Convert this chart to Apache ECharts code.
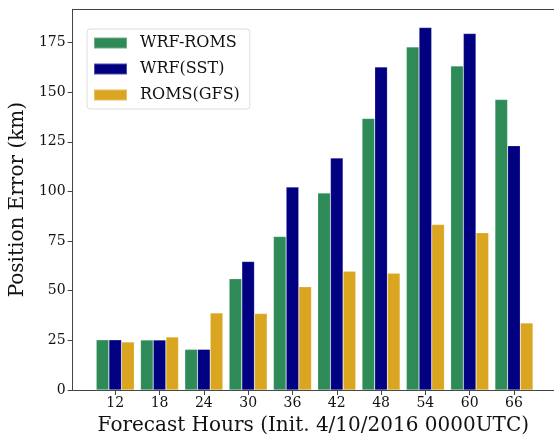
<!DOCTYPE html>
<html>
<head>
<meta charset="utf-8">
<script src="https://cdn.jsdelivr.net/npm/echarts@6/dist/echarts.min.js"></script>
<style>html,body{margin:0;padding:0;background:#fff;}#c{width:554px;height:441px;}</style>
</head>
<body>
<div id="c"></div>
<script>
var hours = [12, 18, 24, 30, 36, 42, 48, 54, 60, 66];
var wrfRoms = [25.3, 25.2, 20.5, 56.0, 77.3, 99.2, 136.8, 172.8, 163.2, 146.3];
var wrfSst = [25.3, 25.2, 20.5, 64.7, 102.2, 116.8, 162.7, 182.5, 179.5, 123.0];
var romsGfs = [24.2, 26.7, 38.8, 38.5, 52.0, 59.8, 58.8, 83.3, 79.2, 33.8];
var yTicks = [0, 25, 50, 75, 100, 125, 150, 175];
var seriesNames = ['WRF-ROMS', 'WRF(SST)', 'ROMS(GFS)'];
var colors = ['#2E8B57', '#000080', '#DAA520'];

function pairs(vals) { return hours.map(function (h, i) { return [h, vals[i]]; }); }
var font = 'DejaVu Serif';
var chart = echarts.init(document.getElementById('c'), null, { renderer: 'canvas' });
var mk = function (i, vals) {
  return {
    name: seriesNames[i], type: 'bar', data: pairs(vals), xAxisIndex: 0,
    barWidth: 12.7, barGap: '0%',
    itemStyle: { color: colors[i], borderColor: 'rgba(255,255,255,0.3)', borderWidth: 0.6 }
  };
};
var xMin = 6.23, xMax = 71.42;
chart.setOption({
  animation: false,
  grid: { left: 72, right: 0, top: 9.3, bottom: 48.3, show: false },
  legend: {
    left: 87, top: 29, orient: 'vertical',
    data: seriesNames,
    itemWidth: 33, itemHeight: 11, itemGap: 10,
    icon: 'rect',
    padding: [6, 10, 6, 6],
    borderColor: '#ddd', borderWidth: 1, borderRadius: 3, backgroundColor: 'rgba(255,255,255,0.8)',
    textStyle: { fontFamily: font, fontSize: 16, color: '#111', padding: [0, 0, 0, 8] }
  },
  xAxis: [{
    type: 'value', min: xMin, max: xMax,
    name: 'Forecast Hours (Init. 4/10/2016 0000UTC)', nameLocation: 'middle', nameGap: 26,
    nameTextStyle: { fontFamily: font, fontSize: 20, color: '#111' },
    axisLine: { show: true, lineStyle: { color: '#444' } },
    axisTick: { show: true, length: 5, lineStyle: { color: '#444' }, customValues: hours },
    axisLabel: { fontFamily: font, fontSize: 14, color: '#111', margin: 6, customValues: hours },
    splitLine: { show: false }
  }, {
    type: 'value', min: xMin, max: xMax, position: 'top',
    axisLine: { show: true, lineStyle: { color: '#444' } },
    axisTick: { show: false }, axisLabel: { show: false }, splitLine: { show: false }
  }],
  yAxis: {
    type: 'value', min: 0, max: 191.7,
    name: 'Position Error (km)', nameLocation: 'middle', nameGap: 41,
    nameTextStyle: { fontFamily: font, fontSize: 20, color: '#111' },
    axisLine: { show: true, lineStyle: { color: '#444' } },
    axisTick: { show: true, length: 5, lineStyle: { color: '#444' }, customValues: yTicks },
    axisLabel: { fontFamily: font, fontSize: 14, color: '#111', margin: 7, customValues: yTicks },
    splitLine: { show: false }
  },
  series: [mk(0, wrfRoms), mk(1, wrfSst), mk(2, romsGfs)]
});
</script>
</body>
</html>
